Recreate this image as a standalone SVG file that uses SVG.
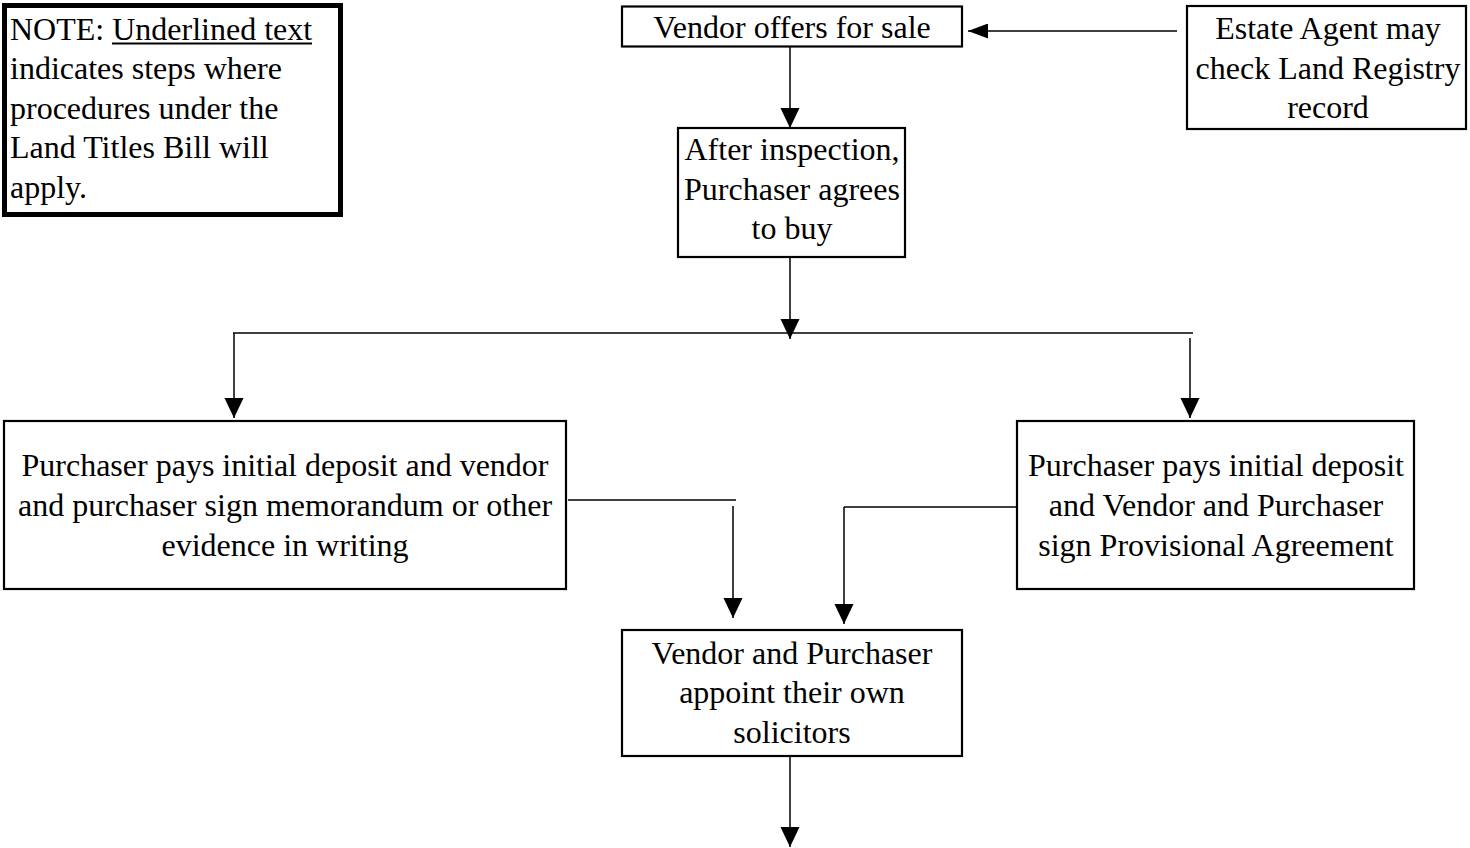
<svg xmlns="http://www.w3.org/2000/svg" width="1470" height="848" viewBox="0 0 1470 848">
<style>
.box{fill:#fff;stroke:#000;stroke-width:2.2}
.note{fill:#fff;stroke:#000;stroke-width:5}
.t{font-family:"Liberation Serif","Times New Roman",serif;font-size:32px;fill:#000}
.c{text-anchor:middle}
.ln{fill:none;stroke:#000;stroke-width:1.5}
</style>
<defs>
<marker id="ah" markerWidth="20" markerHeight="20" viewBox="0 0 21 20" refX="21" refY="10" orient="auto" markerUnits="userSpaceOnUse">
<path d="M0,0 L21,10 L0,20 Z" fill="#000"/>
</marker>
<marker id="ahs" markerWidth="20" markerHeight="15" viewBox="0 0 20 15" refX="20" refY="7.5" orient="auto" markerUnits="userSpaceOnUse">
<path d="M0,0 L20,7.5 L0,15 Z" fill="#000"/>
</marker>
</defs>
<rect width="1470" height="848" fill="#fff"/>
<g id="connectors">
<line class="ln" x1="1177" y1="31" x2="968" y2="31" marker-end="url(#ahs)"/>
<line class="ln" x1="790" y1="47" x2="790" y2="128" marker-end="url(#ah)"/>
<line class="ln" x1="790" y1="257" x2="790" y2="339" marker-end="url(#ah)"/>
<line class="ln" x1="233" y1="333" x2="1193" y2="333"/>
<line class="ln" x1="234" y1="333" x2="234" y2="418" marker-end="url(#ah)"/>
<line class="ln" x1="1190" y1="338" x2="1190" y2="418" marker-end="url(#ah)"/>
<line class="ln" x1="568" y1="500" x2="736" y2="500"/>
<line class="ln" x1="733" y1="506" x2="733" y2="618" marker-end="url(#ah)"/>
<line class="ln" x1="1016" y1="507" x2="844" y2="507"/>
<line class="ln" x1="844" y1="507" x2="844" y2="624" marker-end="url(#ah)"/>
<line class="ln" x1="790" y1="756" x2="790" y2="847" marker-end="url(#ah)"/>
</g>
<g id="note">
<rect class="note" x="4.5" y="5.5" width="336" height="209"/>
<text class="t" x="10" y="40">NOTE: Underlined text</text>
<line x1="112" y1="43.5" x2="312" y2="43.5" stroke="#000" stroke-width="1.8"/>
<text class="t" x="10" y="79">indicates steps where</text>
<text class="t" x="10" y="119">procedures under the</text>
<text class="t" x="10" y="158">Land Titles Bill will</text>
<text class="t" x="10" y="198">apply.</text>
</g>
<g id="vendor-offers">
<rect class="box" x="622" y="6.5" width="340" height="40"/>
<text class="t c" x="792" y="38">Vendor offers for sale</text>
</g>
<g id="estate-agent">
<rect class="box" x="1187" y="6" width="279" height="123"/>
<text class="t c" x="1328" y="39">Estate Agent may</text>
<text class="t c" x="1328" y="79">check Land Registry</text>
<text class="t c" x="1328" y="118">record</text>
</g>
<g id="purchaser-agrees">
<rect class="box" x="678" y="128" width="227" height="129"/>
<text class="t c" x="792" y="160">After inspection,</text>
<text class="t c" x="792" y="200">Purchaser agrees</text>
<text class="t c" x="792" y="239">to buy</text>
</g>
<g id="memorandum">
<rect class="box" x="4" y="421" width="562" height="168"/>
<text class="t c" x="285" y="476">Purchaser pays initial deposit and vendor</text>
<text class="t c" x="285" y="516">and purchaser sign memorandum or other</text>
<text class="t c" x="285" y="556">evidence in writing</text>
</g>
<g id="provisional">
<rect class="box" x="1017" y="421" width="397" height="168"/>
<text class="t c" x="1216" y="476">Purchaser pays initial deposit</text>
<text class="t c" x="1216" y="516">and Vendor and Purchaser</text>
<text class="t c" x="1216" y="556">sign Provisional Agreement</text>
</g>
<g id="solicitors">
<rect class="box" x="622" y="630" width="340" height="126"/>
<text class="t c" x="792" y="664">Vendor and Purchaser</text>
<text class="t c" x="792" y="703">appoint their own</text>
<text class="t c" x="792" y="743">solicitors</text>
</g>
</svg>
